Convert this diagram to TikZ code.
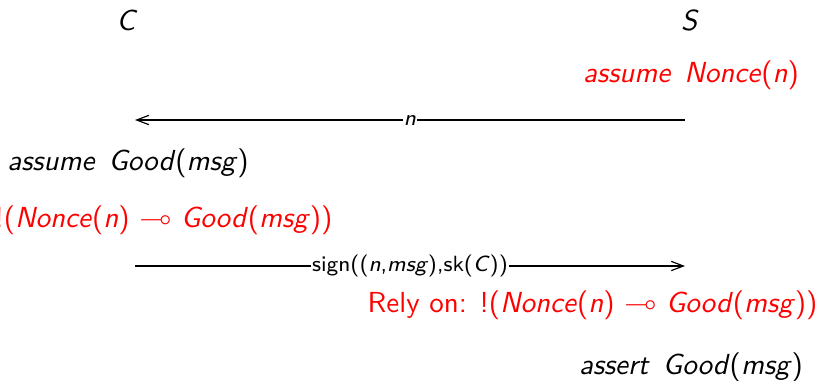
\documentclass[tikz,border=0pt]{standalone}
\usepackage{amssymb}
\usetikzlibrary{arrows.meta}
\newcommand{\wsp}{\hspace{0.45em}}
\begin{document}
\begin{tikzpicture}[x=0.345pt,y=-0.345pt,font=\sffamily,
  txt/.style={inner sep=0pt},
  red txt/.style={inner sep=0pt,text=red},
  msg/.style={-{Straight Barb[length=4.2pt,width=3.2pt]},line width=0.4pt},
  msglabel/.style={fill=white,inner sep=0.3pt,font=\sffamily\fontsize{7.6}{9}\selectfont}]
\useasboundingbox (0,0) rectangle (822,380);
\node[txt] (C) at (127,20) {\textit{C}};
\node[txt] (S) at (690,20) {\textit{S}};
\node[red txt] (assN) at (691,75) {\textit{assume}\wsp\textit{Nonce}(\textit{n})};
\coordinate (m1s) at (685,120);
\coordinate (m1e) at (135,120);
\draw[msg] (m1s) -- node[msglabel] {\textit{n}} (m1e);
\node[txt] (assG) at (128,163) {\textit{assume}\wsp\textit{Good}(\textit{msg})};
\node[red txt,anchor=east] (imp) at (333,220) {!(\textit{Nonce}(\textit{n}) $\multimap$ \textit{Good}(\textit{msg}))};
\coordinate (m2s) at (135,266);
\coordinate (m2e) at (685,266);
\draw[msg] (m2s) -- node[msglabel] {sign((\textit{n},\textit{msg}),sk(\textit{C}))} (m2e);
\node[red txt,anchor=east] (rely) at (818,305) {Rely on: !(\textit{Nonce}(\textit{n}) $\multimap$ \textit{Good}(\textit{msg}))};
\node[txt] (asrt) at (691,367) {\textit{assert}\wsp\textit{Good}(\textit{msg})};
\end{tikzpicture}
\end{document}
